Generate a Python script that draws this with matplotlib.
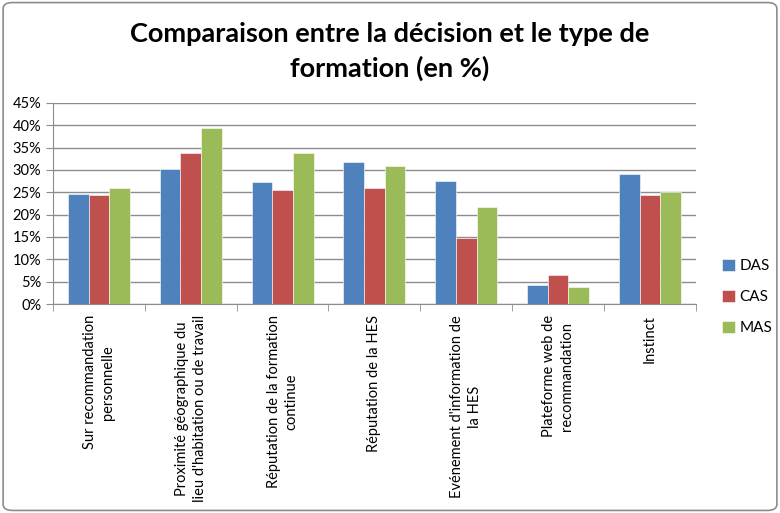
import numpy as np
import matplotlib
matplotlib.use('Agg')
import matplotlib.pyplot as plt
from matplotlib.patches import FancyBboxPatch

plt.rcParams['font.family'] = ['Lato', 'DejaVu Sans']

categories = [
    "Sur recommandation\npersonnelle",
    "Proximité géographique du\nlieu d'habitation ou de travail",
    "Réputation de la formation\ncontinue",
    "Réputation de la HES",
    "Evénement d'information de\nla HES",
    "Plateforme web de\nrecommandation",
    "Instinct",
]
das = [24.7, 30.1, 27.4, 31.8, 27.5, 4.3, 29.1]
cas = [24.5, 33.7, 25.4, 25.9, 14.7, 6.6, 24.5]
mas = [25.9, 39.4, 33.7, 30.9, 21.8, 3.9, 25.0]
series = [("DAS", das, "#4F81BD"), ("CAS", cas, "#C0504D"), ("MAS", mas, "#9BBB59")]

fig = plt.figure(figsize=(7.8, 5.13), dpi=100)
ax = fig.add_axes([0.068, 0.4074, 0.824, 0.392])

x = np.arange(len(categories))
w = 0.225
for i, (name, vals, col) in enumerate(series):
    ax.bar(x + (i - 1) * w, vals, w, color=col, label=name,
           edgecolor='white', linewidth=0.4, zorder=3)

ax.set_xlim(-0.5, len(categories) - 0.5)
ax.set_ylim(0, 45)
ax.set_yticks(np.arange(0, 46, 5))
ax.set_yticklabels([f"{v}%" for v in range(0, 46, 5)], fontsize=10.5)
ax.yaxis.grid(True, color='#8c8c8c', linewidth=1.0, zorder=0)

ax.set_xticks(x)
ax.set_xticklabels(categories, rotation=90, fontsize=10.5, va='top',
                   ha='center', linespacing=1.35)
ax.tick_params(axis='x', length=0, pad=8)
ax.set_xticks(np.arange(-0.5, len(categories)), minor=True)
ax.tick_params(axis='x', which='minor', length=5, color='#8c8c8c')
ax.tick_params(axis='y', length=5, color='#8c8c8c')

for s in ['top', 'right']:
    ax.spines[s].set_visible(False)
for s in ['left', 'bottom']:
    ax.spines[s].set_color('#8c8c8c')

ax.legend(loc='center left', bbox_to_anchor=(1.02, 0.035), frameon=False,
          fontsize=11, handlelength=0.8, handleheight=0.8,
          handletextpad=0.3, labelspacing=1.1)

fig.text(0.5, 0.9, "Comparaison entre la décision et le type de\nformation (en %)",
         ha='center', va='center', fontsize=19.5, fontweight='bold',
         linespacing=1.45)

border = FancyBboxPatch((0.004, 0.005), 0.992, 0.99,
                        boxstyle="round,pad=0,rounding_size=0.012",
                        transform=fig.transFigure, fill=False,
                        edgecolor='#8c8c8c', linewidth=1.2)
fig.patches.append(border)

fig.savefig("out.png", dpi=100)
